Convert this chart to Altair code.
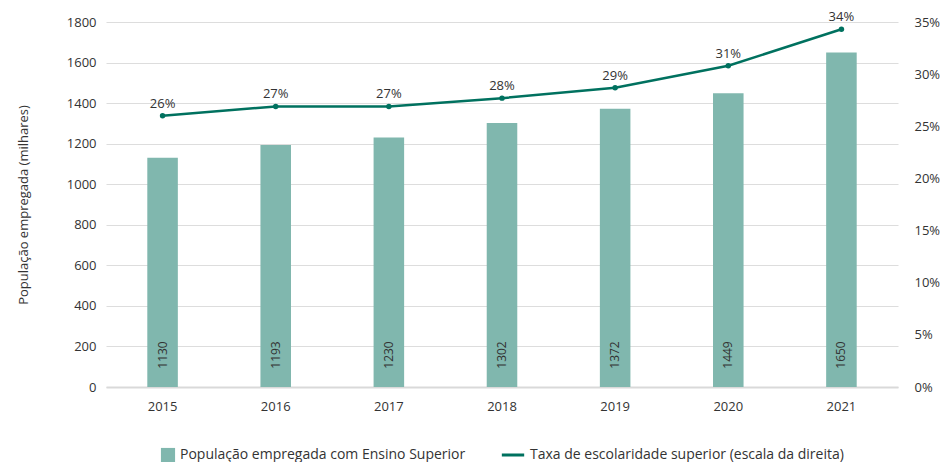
import altair as alt
import pandas as pd

years = ["2015", "2016", "2017", "2018", "2019", "2020", "2021"]
employed = [1130, 1193, 1230, 1302, 1372, 1449, 1650]
rate = [0.260, 0.269, 0.269, 0.277, 0.287, 0.308, 0.343]
rate_labels = ["26%", "27%", "27%", "28%", "29%", "31%", "34%"]

bar_name = "População empregada com Ensino Superior"
line_name = "Taxa de escolaridade superior (escala da direita)"

df = pd.DataFrame({"ano": years, "pop": employed, "taxa": rate, "lab": rate_labels})

FONT = "Open Sans"
BAR = "#80b7ae"
LINE = "#00715f"
TXT = "#333333"

x = alt.X("ano:N", title=None, sort=years,
          scale=alt.Scale(paddingInner=0.73, paddingOuter=0.365),
          axis=alt.Axis(labelAngle=0, ticks=False, domainColor="#d9d9d9", domainWidth=2,
                        labelPadding=13, labelFontSize=13, labelColor=TXT, labelFont=FONT))

yl = alt.Y("pop:Q", title="População empregada (milhares)",
           scale=alt.Scale(domain=[0, 1800]),
           axis=alt.Axis(values=list(range(0, 1801, 200)), format="d", ticks=False, domain=False,
                         gridColor="#dddddd", labelPadding=10, titlePadding=36,
                         labelFontSize=13, labelColor=TXT, labelFont=FONT,
                         titleFontSize=13, titleFontWeight="normal", titleColor=TXT, titleFont=FONT))

base = alt.Chart(df)

bars = base.mark_bar(color=BAR).encode(
    x=x, y=yl,
    fill=alt.Fill("s:N", scale=alt.Scale(domain=[bar_name], range=[BAR]),
                  legend=alt.Legend(title=None, orient="none", legendX=54, legendY=425,
                                    symbolType="square", symbolSize=200, labelLimit=0,
                                    labelFontSize=14, labelFont=FONT, labelColor=TXT)),
).transform_calculate(s=f"'{bar_name}'")

bar_text = base.mark_text(angle=270, align="center", baseline="middle", dx=32,
                          fontSize=12, font=FONT, color=TXT).encode(
    x=x, y=alt.datum(0, scale=alt.Scale(domain=[0, 1800])), text="pop:Q")

left = alt.layer(bars, bar_text)

yr = alt.Y("taxa:Q", title=None, scale=alt.Scale(domain=[0, 0.35]),
           axis=alt.Axis(orient="right", format="0%", values=[0, 0.05, 0.1, 0.15, 0.2, 0.25, 0.3, 0.35],
                         ticks=False, domain=False, grid=False, labelPadding=16,
                         labelFontSize=13, labelColor=TXT, labelFont=FONT))

line = base.mark_line(strokeWidth=2.5).encode(
    x=x, y=yr,
    stroke=alt.Stroke("s:N", scale=alt.Scale(domain=[line_name], range=[LINE]),
                      legend=alt.Legend(title=None, orient="none", legendX=394, legendY=420,
                                        symbolType="stroke", symbolStrokeWidth=3, symbolSize=500,
                                        labelLimit=0, labelFontSize=14, labelFont=FONT, labelColor=TXT)),
).transform_calculate(s=f"'{line_name}'")

points = base.mark_point(filled=True, size=30, color=LINE, opacity=1).encode(x=x, y=yr)

line_text = base.mark_text(dy=-12, fontSize=13, font=FONT, color=TXT).encode(x=x, y=yr, text="lab:N")

right = alt.layer(line, points, line_text)

chart = alt.layer(left, right).resolve_scale(y="independent").properties(
    width=792, height=365, padding={"top": 3, "left": 9, "right": 0, "bottom": 0}
).configure_view(stroke=None)

chart.save("out.html", embed_options={"renderer": "svg", "actions": False})
